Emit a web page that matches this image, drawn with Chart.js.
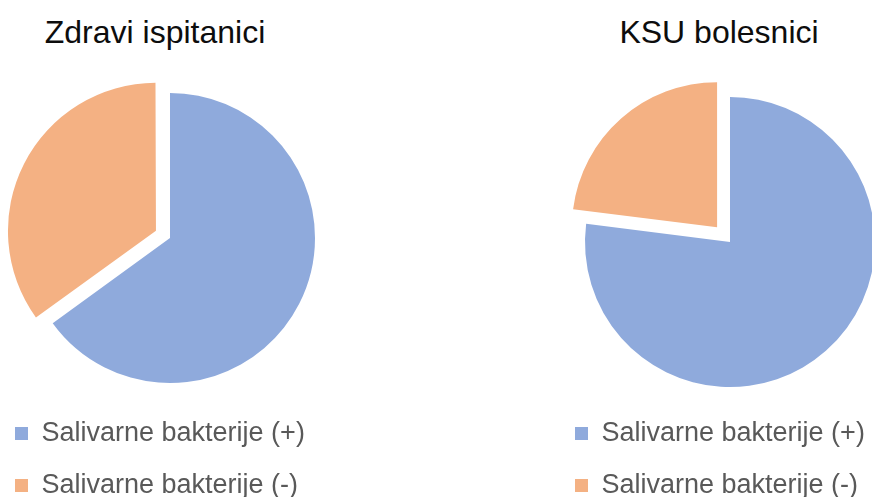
<!DOCTYPE html>
<html>
<head>
<meta charset="utf-8">
<script src="https://cdn.jsdelivr.net/npm/chart.js@4"></script>
<style>
    html, body {
        margin: 0;
        padding: 0;
        width: 872px;
        height: 497px;
        overflow: hidden;
        background: #ffffff;
        position: relative;
    }
    .chart-title {
        position: absolute;
        top: 16px;
        font-family: "Liberation Sans", Arial, sans-serif;
        font-size: 32px;
        line-height: 32px;
        color: #0d0d0d;
        text-align: center;
        white-space: nowrap;
    }
    .pie-box {
        position: absolute;
        top: 0;
        width: 360px;
        height: 509px;
    }
</style>
</head>
<body>
<div class="chart-title" style="left: 5px; width: 300px;">Zdravi ispitanici</div>
<div class="chart-title" style="left: 569px; width: 300px;">KSU bolesnici</div>
<div class="pie-box" style="left: -10px;"><canvas id="pieHealthy"></canvas></div>
<div class="pie-box" style="left: 550px;"><canvas id="pieKsu"></canvas></div>

<script>
// Data
const categories = ['Salivarne bakterije (+)', 'Salivarne bakterije (-)'];
const healthyValues = [65, 35];
const ksuValues = [77, 23];

const sliceColors = ['#8faadc', '#f4b183'];

function makePie(canvasId, values, explode, topPad) {
    const canvas = document.getElementById(canvasId);
    return new Chart(canvas, {
        type: 'pie',
        data: {
            labels: categories,
            datasets: [{
                data: values,
                backgroundColor: sliceColors,
                borderWidth: 0,
                offset: [0, explode]
            }]
        },
        options: {
            responsive: true,
            maintainAspectRatio: false,
            devicePixelRatio: 1,
            animation: false,
            radius: 145,
            layout: {
                padding: { top: topPad }
            },
            plugins: {
                tooltip: { enabled: false },
                legend: {
                    position: 'bottom',
                    align: 'start',
                    labels: {
                        boxWidth: 13,
                        boxHeight: 13,
                        padding: 25,
                        color: '#595959',
                        font: {
                            family: '"Liberation Sans", Arial, sans-serif',
                            size: 27
                        }
                    }
                }
            }
        }
    });
}

makePie('pieHealthy', healthyValues, 63, 81);
makePie('pieKsu', ksuValues, 78, 89);
</script>
</body>
</html>
